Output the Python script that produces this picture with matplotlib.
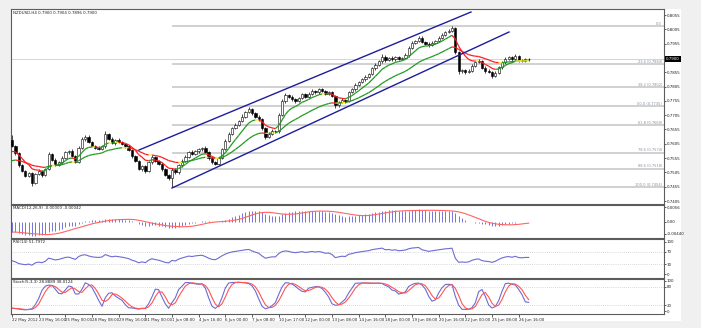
import numpy as np
import pandas as pd
import matplotlib

matplotlib.use('Agg')
import matplotlib.pyplot as plt
from matplotlib.collections import LineCollection
import matplotlib.transforms as mtransforms

W, H = 701, 328

symbol = 'NZDUSD,H4'

# H4 closes, one per bar
closes = [
    0.7597, 0.7572, 0.7530, 0.7510, 0.7494, 0.7502, 0.7468, 0.7500, 0.7510, 0.7496,
    0.7516, 0.7568, 0.7550, 0.7532, 0.7540, 0.7556, 0.7575, 0.7580, 0.7562, 0.7542,
    0.7592, 0.7622, 0.7630, 0.7612, 0.7598, 0.7592, 0.7588, 0.7596, 0.7640, 0.7622,
    0.7608, 0.7618, 0.7612, 0.7605, 0.7596, 0.7585, 0.7562, 0.7545, 0.7516, 0.7526,
    0.7510, 0.7540, 0.7560, 0.7546, 0.7536, 0.7516, 0.7496, 0.7485, 0.7515, 0.7505,
    0.7530, 0.7546, 0.7560, 0.7576, 0.7570, 0.7580, 0.7586, 0.7590, 0.7576, 0.7556,
    0.7540, 0.7536, 0.7556, 0.7586, 0.7615, 0.7640, 0.7660, 0.7672, 0.7685, 0.7700,
    0.7715, 0.7725, 0.7712, 0.7700, 0.7690, 0.7660, 0.7630, 0.7640, 0.7650, 0.7648,
    0.7705, 0.7755, 0.7775, 0.7770, 0.7760, 0.7755, 0.7765, 0.7778, 0.7770, 0.7780,
    0.7790, 0.7785, 0.7795, 0.7790, 0.7780, 0.7785, 0.7772, 0.7740, 0.7750, 0.7758,
    0.7755, 0.7785, 0.7795, 0.7812, 0.7820, 0.7830, 0.7840, 0.7848, 0.7870, 0.7882,
    0.7893, 0.7910, 0.7898, 0.7905, 0.7900, 0.7908, 0.7902, 0.7906, 0.7915, 0.7940,
    0.7958, 0.7965, 0.7975, 0.7960, 0.7955, 0.7950, 0.7958, 0.7965, 0.7975, 0.7985,
    0.7995, 0.8000, 0.8008, 0.7925, 0.7858, 0.7862, 0.7855, 0.7860, 0.7878, 0.7890,
    0.7895, 0.7870, 0.7860, 0.7855, 0.7842, 0.7852, 0.7872, 0.7890, 0.7902, 0.7908,
    0.7900, 0.7912, 0.7898, 0.7896, 0.7900, 0.7900,
]
first_open = 0.7618

# wick lengths in pips above / below the body
upper_wick = [
    18, 4, 5, 3, 4, 5, 3, 4, 6, 5,
    4, 8, 4, 5, 4, 6, 5, 4, 6, 5,
    5, 6, 4, 5, 3, 4, 5, 6, 10, 4,
    5, 4, 6, 3, 4, 5, 3, 4, 5, 6,
    4, 6, 5, 4, 3, 5, 4, 3, 6, 5,
    4, 6, 5, 4, 6, 5, 4, 5, 6, 3,
    4, 5, 4, 6, 5, 7, 5, 6, 4, 8,
    6, 9, 5, 4, 6, 5, 4, 6, 5, 4,
    6, 7, 8, 5, 4, 6, 5, 6, 4, 5,
    6, 4, 5, 6, 4, 5, 4, 5, 4, 6,
    5, 6, 4, 5, 6, 4, 5, 6, 4, 5,
    6, 8, 4, 5, 6, 4, 5, 4, 6, 5,
    6, 4, 5, 6, 4, 5, 6, 4, 5, 6,
    5, 6, 9, 4, 5, 6, 4, 5, 6, 7,
    5, 4, 6, 5, 4, 6, 5, 4, 6, 5,
    4, 8, 5, 4, 4, 4,
]
lower_wick = [
    4, 5, 6, 4, 5, 4, 10, 5, 4, 6,
    5, 4, 6, 4, 5, 4, 5, 6, 4, 5,
    4, 5, 6, 4, 5, 4, 5, 6, 4, 5,
    4, 6, 5, 4, 5, 4, 6, 5, 4, 5,
    6, 4, 5, 4, 6, 5, 4, 6, 31, 5,
    4, 5, 6, 4, 5, 4, 6, 5, 4, 6,
    5, 4, 6, 5, 4, 5, 6, 4, 5, 4,
    5, 4, 6, 5, 4, 6, 7, 5, 4, 6,
    5, 4, 6, 5, 4, 6, 5, 4, 6, 5,
    4, 6, 5, 4, 6, 5, 4, 10, 5, 4,
    6, 5, 4, 6, 5, 4, 6, 5, 4, 6,
    5, 4, 6, 5, 4, 6, 5, 4, 6, 5,
    4, 5, 6, 4, 5, 6, 4, 5, 6, 4,
    5, 4, 5, 6, 8, 5, 6, 4, 5, 6,
    4, 5, 6, 4, 6, 5, 4, 6, 5, 4,
    5, 4, 8, 5, 4, 4,
]

time_labels = ['22 May 2012', '23 May 16:00', '25 May 00:00', '28 May 08:00',
               '29 May 16:00', '31 May 00:00', '1 Jun 08:00', '4 Jun 16:00',
               '6 Jun 00:00', '7 Jun 08:00', '10 Jun 17:00', '12 Jun 00:00',
               '13 Jun 08:00', '14 Jun 16:00', '18 Jun 00:00', '19 Jun 08:00',
               '20 Jun 16:00', '22 Jun 00:00', '25 Jun 08:00', '26 Jun 16:00']
label_step = 8

# fibonacci retracement, drawn from the 1 Jun low onwards
fib_high, fib_low = 0.80168, 0.74540
fib_start = 48
fib_levels = [0.0, 23.6, 38.2, 50.0, 61.8, 78.6, 88.6, 100.0]

# trend lines (bar, price)
upper_line = ([38.1, 137.7], [0.75833, 0.80655])
lower_line = ([48.0, 149.1], [0.74505, 0.79956])

# moving averages coloured by slope
ma_fast_span, ma_slow_span = 8, 22
ma_fast_seed, ma_slow_seed = 0.7573, 0.7541
macd_seeds = (0.7605, 0.7645)
rsi_seeds = (0.0009, 0.0011)

FS = 2.9


def ema(values, span, seed):
    alpha = 2.0 / (span + 1)
    out = np.empty(len(values))
    prev = seed
    for i, v in enumerate(values):
        prev = prev + alpha * (v - prev)
        out[i] = prev
    return out


def wilder_rsi(values, start, period, seeds):
    diff = np.diff(np.r_[start, values])
    ag, al = seeds
    out = np.empty(len(values))
    for i, d in enumerate(diff):
        ag = (ag * (period - 1) + max(d, 0)) / period
        al = (al * (period - 1) + max(-d, 0)) / period
        out[i] = 100 - 100 / (1 + ag / al)
    return out


def slope_line(ax, y, thr=0.00006):
    x = np.arange(len(y))
    pts = np.column_stack([x, y])
    segs = np.stack([pts[:-1], pts[1:]], axis=1)
    d = np.diff(y)
    cols = np.where(d > thr, '#1f9a1f', np.where(d < -thr, '#ff1c1c', '#ffe81a'))
    ax.add_collection(LineCollection(segs, colors=cols, linewidths=0.9, zorder=4))


c = np.array(closes)
o = np.r_[first_open, c[:-1]]
body_hi = np.maximum(o, c)
body_lo = np.minimum(o, c)
hi = body_hi + np.array(upper_wick) * 1e-4
lo = body_lo - np.array(lower_wick) * 1e-4
x = np.arange(len(c))

# indicators
ma_fast = ema(c, ma_fast_span, ma_fast_seed)
ma_slow = ema(c, ma_slow_span, ma_slow_seed)
macd_main = ema(c, 12, macd_seeds[0]) - ema(c, 26, macd_seeds[1])
macd_signal = pd.Series(macd_main).rolling(9, min_periods=1).mean().values
rsi = wilder_rsi(c, first_open, 14, rsi_seeds)
hh = pd.Series(hi).rolling(5, min_periods=1).max()
ll = pd.Series(lo).rolling(5, min_periods=1).min()
cs = pd.Series(c)
stoch_k = (100 * (cs - ll).rolling(3, min_periods=1).sum()
           / (hh - ll).rolling(3, min_periods=1).sum()).values
stoch_d = pd.Series(stoch_k).rolling(3, min_periods=1).mean().values

fig = plt.figure(figsize=(W / 100, H / 100), dpi=100, facecolor='#f0f0f0')
fig.patches.append(plt.Rectangle((11 / W, 1 - 321 / H), 670 / W, 312 / H,
                                 transform=fig.transFigure, facecolor='white',
                                 edgecolor='none', zorder=-1))


def px_axes(x0, y0, x1, y1):
    ax = fig.add_axes([x0 / W, 1 - y1 / H, (x1 - x0) / W, (y1 - y0) / H])
    for s in ax.spines.values():
        s.set_color('#5c5c5c')
        s.set_linewidth(0.8)
    ax.set_xlim(-0.3, 195.6)
    ax.yaxis.tick_right()
    ax.tick_params(axis='y', labelsize=FS, length=1.5, width=0.5, pad=0.6,
                   colors='#202020')
    ax.tick_params(axis='x', bottom=False, labelbottom=False)
    return ax


main = px_axes(11, 9, 664, 204)
pmacd = px_axes(11, 205, 664, 237.5)
prsi = px_axes(11, 238.5, 664, 277.5)
pstoch = px_axes(11, 278.5, 664, 313.5)

# main chart
main.set_ylim(0.73946, 0.80760)
ticks = [0.7405 + 0.005 * i for i in range(14)]
main.set_yticks(ticks)
main.set_yticklabels([f'{t:.4f}' for t in ticks])
xmax = main.get_xlim()[1]

main.axhline(c[-1], color='#dccaca', lw=0.6, zorder=1)
rng = fib_high - fib_low
for lvl in fib_levels:
    p = fib_high - lvl / 100 * rng
    main.hlines(p, fib_start, xmax, color='#c4c4c4', lw=1.1, zorder=1)
    txt = '0.0' if lvl == 0 else f'{lvl:.1f} ({p:.4f})'
    main.text(xmax - 0.6, p + 0.00008, txt, fontsize=FS * 0.9, color='#8890a0',
              ha='right', va='bottom', zorder=2)

main.vlines(x, lo, hi, color='black', lw=0.5, zorder=2)
main.bar(x, np.maximum(body_hi - body_lo, 0.00004), bottom=body_lo, width=0.7,
         color=np.where(c >= o, 'white', 'black'), edgecolor='black',
         linewidth=0.4, zorder=3)

slope_line(main, ma_fast)
slope_line(main, ma_slow)

for xs, ys in (upper_line, lower_line):
    main.plot(xs, ys, color='#1d1d9c', lw=1.0, zorder=5)

main.text(0.003, 0.988,
          f'{symbol} {o[-1]:.4f} {hi[-1]:.4f} {lo[-1]:.4f} {c[-1]:.4f}',
          transform=main.transAxes, fontsize=FS, ha='left', va='top', color='#202020')
tag = mtransforms.blended_transform_factory(main.transAxes, main.transData)
main.text(1.003, c[-1], f'{c[-1]:.4f}', transform=tag, fontsize=FS, color='white',
          ha='left', va='center', zorder=6,
          bbox=dict(boxstyle='square,pad=0.25', fc='black', ec='none'))

# MACD
pmacd.set_ylim(-0.00579, 0.00635)
pmacd.vlines(x, 0, macd_main, color='#7474dc', lw=0.7)
pmacd.plot(x, macd_signal, color='#ff6464', lw=0.8)
pmacd.set_yticks([-0.0044, 0.0, 0.0056])
pmacd.set_yticklabels(['-0.00440', '0.00', '0.0056'])
pmacd.text(0.003, 0.96, f'MACD(12,26,9) {macd_main[-1]:.5f} {macd_signal[-1]:.5f}',
           transform=pmacd.transAxes, fontsize=FS, ha='left', va='top', color='#202020')

# RSI
prsi.set_ylim(-10.9, 110.9)
for lvl in (30, 70):
    prsi.axhline(lvl, color='#b4b4b4', lw=0.5, ls=(0, (1, 2)))
prsi.plot(x, rsi, color='#6c6cd4', lw=0.8)
prsi.set_yticks([0, 30, 70, 100])
prsi.text(0.003, 0.965, f'RSI(14) {rsi[-1]:.4f}', transform=prsi.transAxes,
          fontsize=FS, ha='left', va='top', color='#202020')

# Stochastic
pstoch.set_ylim(-8.3, 108.3)
for lvl in (20, 80):
    pstoch.axhline(lvl, color='#b4b4b4', lw=0.5, ls=(0, (1, 2)))
pstoch.plot(x, stoch_k, color='#6c6cd4', lw=0.8)
pstoch.plot(x, stoch_d, color='#ff5555', lw=0.8)
pstoch.set_yticks([0, 20, 80, 100])
pstoch.text(0.003, 0.965, f'Stoch(5,3,3) {stoch_k[-1]:.4f} {stoch_d[-1]:.4f}',
            transform=pstoch.transAxes, fontsize=FS, ha='left', va='top', color='#202020')

pstoch.set_xticks([label_step * i for i in range(len(time_labels))])
pstoch.set_xticklabels(time_labels)
pstoch.tick_params(axis='x', bottom=True, labelbottom=True, labelsize=FS,
                   length=2, width=0.5, pad=1, colors='#202020')
for lbl in pstoch.get_xticklabels():
    lbl.set_ha('left')

fig.savefig('out.png', dpi=100, facecolor=fig.get_facecolor())
